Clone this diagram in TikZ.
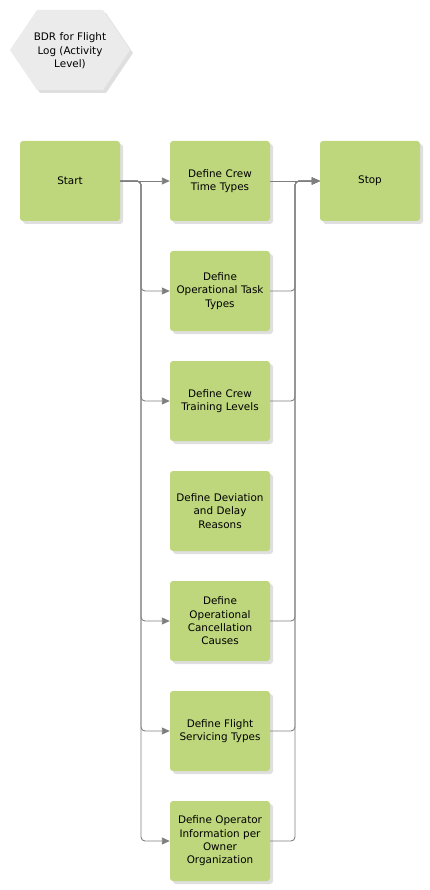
\documentclass[tikz,border=0pt]{standalone}
\usepackage{fontspec}
\setmainfont{DejaVu Sans}
\usetikzlibrary{shadows,arrows.meta}
\definecolor{boxgreen}{HTML}{BED67C}
\definecolor{hexgrey}{HTML}{EBEBEB}
\definecolor{linegrey}{HTML}{7F7F7F}
\tikzset{
  stepbox/.style={fill=boxgreen, rounded corners=3pt, minimum width=100pt, minimum height=80pt,
    text width=96pt, align=center, inner sep=0pt,
    font=\fontsize{10.4}{13.4}\selectfont,
    drop shadow={shadow xshift=3pt, shadow yshift=-3pt, fill=black!25, opacity=0.5}},
  conn/.style={draw=linegrey, line width=0.9pt, rounded corners=4pt},
  arr/.style={conn, -{Triangle[length=8pt,width=7pt]}},
}
\begin{document}
\begin{tikzpicture}[x=1pt,y=-1pt]
\useasboundingbox (0,0) rectangle (430,890);
% hexagon
\fill[black!25, opacity=0.5] (13,53) -- (40,13) -- (106,13) -- (133,53) -- (106,93) -- (40,93) -- cycle;
\fill[hexgrey] (10,50) -- (37,10) -- (103,10) -- (130,50) -- (103,90) -- (37,90) -- cycle;
\node[align=center, font=\fontsize{10.4}{13.4}\selectfont] (hex) at (70,51) {BDR for Flight\\Log (Activity\\Level)};
% boxes
\node[stepbox] (start) at (70,181) {Start};
\node[stepbox] (crew) at (220,181) {Define Crew\\Time Types};
\node[stepbox] (stop) at (370,181) {Stop};
\node[stepbox] (task) at (220,291) {Define\\Operational Task\\Types};
\node[stepbox] (train) at (220,401) {Define Crew\\Training Levels};
\node[stepbox] (dev) at (220,511) {Define Deviation\\and Delay\\Reasons};
\node[stepbox] (canc) at (220,621) {Define\\Operational\\Cancellation\\Causes};
\node[stepbox] (serv) at (220,731) {Define Flight\\Servicing Types};
\node[stepbox] (oper) at (220,841) {Define Operator\\Information per\\Owner\\Organization};
\coordinate (lbus) at (141,0);
\coordinate (rbus) at (295,0);
% left connectors
\draw[arr] (start.east) -- (crew.west);
\foreach \n in {task,train,canc,serv,oper}{
  \draw[arr] (start.east) -- (start.east -| lbus) |- (\n.west);
}
% right connectors
\draw[arr] (crew.east) -- (stop.west);
\foreach \n in {task,train,canc,serv,oper}{
  \draw[arr] (\n.east) -| (rbus |- stop.west) -- (stop.west);
}
\end{tikzpicture}
\end{document}
